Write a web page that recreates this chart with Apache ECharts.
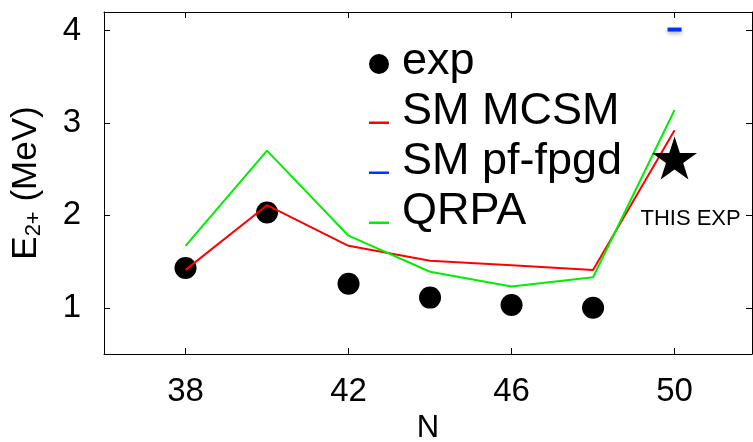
<!DOCTYPE html>
<html>
<head>
    <meta charset="UTF-8">
    <script type="text/javascript" src="https://cdn.jsdelivr.net/npm/echarts@6/dist/echarts.min.js"></script>
    <title>E2+ vs N</title>
    <style>
        html, body { margin: 0; padding: 0; background: #fff; }
        #chart { width: 753px; height: 442px; }
    </style>
</head>
<body>
    <div id="chart"></div>
    <script type="text/javascript">
    // data
    var nValues = [38, 40, 42, 44, 46, 48, 50];
    var expE = [1.43, 2.03, 1.26, 1.11, 1.03, 1.00];
    var mcsmE = [1.41, 2.11, 1.67, 1.51, 1.46, 1.41, 2.92];
    var qrpaE = [1.67, 2.70, 1.78, 1.39, 1.23, 1.33, 3.14];
    var pfN = [50];
    var pfE = [4.01];
    var thisExpN = [50];
    var thisExpE = [2.62];
    var xTicks = [38, 42, 46, 50];
    var yTicks = [1, 2, 3, 4];

    function pairs(xs, ys) {
        var out = [];
        for (var i = 0; i < ys.length; i++) out.push([xs[i], ys[i]]);
        return out;
    }

    var font = 'Liberation Sans, Arial, sans-serif';
    var starPath = 'path://M50,0 L61.8,36.2 L100,36.2 L69.1,58.6 L80.9,95.1 L50,72.7 L19.1,95.1 L30.9,58.6 L0,36.2 L38.2,36.2 Z';
    // legend markers sit a bit below the text centre, as in the original
    var linePath = 'path://M0,0 L20,0 L20,0.01 L0,0.01 Z M0,21.5 L20,21.5 L20,24 L0,24 Z';
    var dotPath = 'path://M0,0 L0.01,0 L0.01,0.01 Z M20,14 A10,10 0 1,1 0,14 A10,10 0 1,1 20,14 Z';

    var chart = echarts.init(document.getElementById('chart'));
    var option = {
        animation: false,
        textStyle: { fontFamily: font },
        grid: { left: 104, right: 1, top: 12, bottom: 88, outerBoundsMode: 'none', containLabel: false },
        legend: {
            orient: 'vertical',
            left: 364,
            top: 34,
            itemWidth: 20,
            itemHeight: 24,
            itemGap: 4,
            textStyle: { fontSize: 45, lineHeight: 46, color: '#000', fontFamily: font, padding: [0, 0, 0, 8] },
            data: [
                { name: 'exp', icon: dotPath },
                { name: 'SM MCSM', icon: linePath },
                { name: 'SM pf-fpgd', icon: linePath },
                { name: 'QRPA', icon: linePath }
            ]
        },
        xAxis: [{
            type: 'value',
            min: 36,
            max: 51.9,
            name: 'N',
            nameLocation: 'middle',
            nameGap: 56,
            nameTextStyle: { fontSize: 31, color: '#000' },
            axisLine: { lineStyle: { color: '#000', width: 1 } },
            axisTick: { inside: true, length: 6, customValues: xTicks, lineStyle: { color: '#000' } },
            axisLabel: { customValues: xTicks, fontSize: 33, color: '#000', margin: 21 },
            splitLine: { show: false }
        }, {
            type: 'value',
            position: 'top',
            min: 36,
            max: 51.9,
            axisLine: { lineStyle: { color: '#000', width: 1 } },
            axisTick: { inside: true, length: 6, customValues: xTicks, lineStyle: { color: '#000' } },
            axisLabel: { show: false },
            splitLine: { show: false }
        }],
        yAxis: [{
            type: 'value',
            min: 0.5,
            max: 4.2,
            name: '{a|E}{s|2+}{a| (MeV)}',
            nameLocation: 'middle',
            nameGap: 59,
            nameTextStyle: {
                color: '#000',
                rich: {
                    a: { fontSize: 35, color: '#000', fontFamily: font },
                    s: { fontSize: 22, color: '#000', fontFamily: font, padding: [16, 0, 0, 0] }
                }
            },
            axisLine: { lineStyle: { color: '#000', width: 1 } },
            axisTick: { inside: true, length: 6, customValues: yTicks, lineStyle: { color: '#000' } },
            axisLabel: { customValues: yTicks, fontSize: 33, color: '#000', margin: 23 },
            splitLine: { show: false }
        }, {
            type: 'value',
            position: 'right',
            min: 0.5,
            max: 4.2,
            axisLine: { lineStyle: { color: '#000', width: 1 } },
            axisTick: { inside: true, length: 6, customValues: yTicks, lineStyle: { color: '#000' } },
            axisLabel: { show: false },
            splitLine: { show: false }
        }],
        series: [{
            name: 'SM MCSM',
            type: 'line',
            data: pairs(nValues, mcsmE),
            showSymbol: false,
            color: '#ff0000',
            lineStyle: { color: '#ff0000', width: 2 },
            z: 3
        }, {
            name: 'QRPA',
            type: 'line',
            data: pairs(nValues, qrpaE),
            showSymbol: false,
            color: '#00ee00',
            lineStyle: { color: '#00ee00', width: 2 },
            z: 3
        }, {
            name: 'SM pf-fpgd',
            type: 'line',
            data: pairs(pfN, pfE),
            symbol: 'rect',
            symbolSize: [14, 4],
            showSymbol: true,
            color: '#0033ff',
            itemStyle: { color: '#0033ff', shadowBlur: 4, shadowColor: 'rgba(0,0,0,0.35)', shadowOffsetY: 2 },
            lineStyle: { color: '#0033ff', width: 2 },
            z: 3
        }, {
            name: 'exp',
            type: 'scatter',
            data: pairs(nValues, expE),
            symbol: 'circle',
            symbolSize: 22,
            color: '#000',
            itemStyle: { color: '#000', opacity: 1 },
            z: 2
        }, {
            name: 'THIS EXP',
            type: 'scatter',
            data: pairs(thisExpN, thisExpE),
            symbol: starPath,
            symbolSize: [45, 43],
            itemStyle: { color: '#000', opacity: 1 },
            label: {
                show: true,
                position: 'bottom',
                distance: 28,
                offset: [16, 0],
                formatter: 'THIS EXP',
                fontSize: 22,
                color: '#000'
            },
            z: 4
        }]
    };
    chart.setOption(option);
    </script>
</body>
</html>
